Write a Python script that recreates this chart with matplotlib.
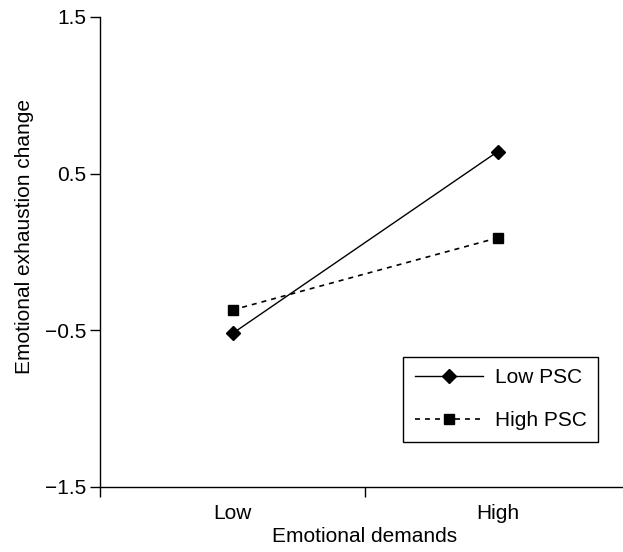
import matplotlib
matplotlib.use("Agg")
import matplotlib.pyplot as plt

# data
categories = ["Low", "High"]
low_psc = [-0.52, 0.64]
high_psc = [-0.37, 0.09]
y_ticks = [1.5, 0.5, -0.5, -1.5]
y_tick_labels = ["1.5", "0.5", "\u22120.5", "\u22121.5"]

plt.rcParams["font.family"] = ["Liberation Sans", "DejaVu Sans"]
plt.rcParams["font.size"] = 15

fig = plt.figure(figsize=(6.23, 5.52), dpi=100)
ax = fig.add_axes([100 / 623, 65 / 552, 530 / 623, 470 / 552])

xpos = [0.5, 1.5]
ax.plot(xpos, low_psc, color="black", lw=1.0, marker="D", ms=7, label="Low PSC")
ax.plot(xpos, high_psc, color="black", lw=1.2, ls=(0, (3, 3)), marker="s", ms=7,
        label="High PSC")

ax.set_xlim(0, 2)
ax.set_ylim(-1.5, 1.5)
ax.set_yticks(y_ticks)
ax.set_yticklabels(y_tick_labels)
ax.set_xticks([0, 1, 2])
ax.set_xticklabels(["", "", ""])
ax.set_xticks(xpos, minor=True)
ax.set_xticklabels(categories, minor=True)
ax.tick_params(axis="x", which="minor", length=0, pad=12)
ax.tick_params(axis="both", which="major", length=7, width=1, direction="out")
ax.tick_params(axis="y", pad=3)

for s in ["top", "right"]:
    ax.spines[s].set_visible(False)
ax.spines["left"].set_linewidth(1)
ax.spines["bottom"].set_linewidth(1)

ax.set_xlabel("Emotional demands", labelpad=3)
ax.set_ylabel("Emotional exhaustion change")
ax.yaxis.set_label_coords(-0.125, 0.534)

leg = ax.legend(loc="lower left", bbox_to_anchor=(0.572, 0.096), borderaxespad=0,
                fancybox=False, edgecolor="black", framealpha=1,
                handlelength=3.3, handletextpad=0.55, labelspacing=1.17,
                borderpad=0.55)
leg.get_frame().set_linewidth(1)

fig.savefig("out.png", dpi=100)
